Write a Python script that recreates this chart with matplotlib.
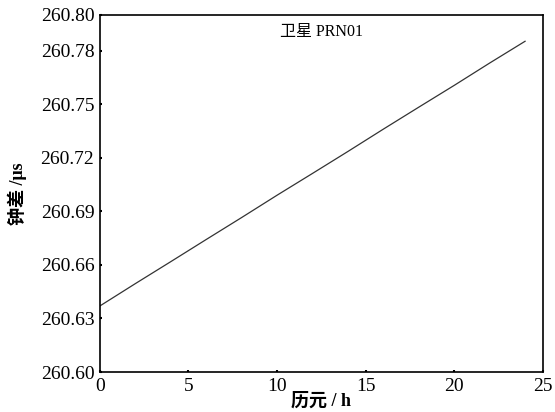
import matplotlib
matplotlib.use("Agg")
import matplotlib.pyplot as plt

plt.rcParams['font.family'] = ['Liberation Serif', 'Noto Sans CJK SC']

# clock offset of PRN01 (every 2 h)
epoch_h = [0, 2, 4, 6, 8, 10, 12, 14, 16, 18, 20, 22, 24]
clock_us = [260.637, 260.6495, 260.6618, 260.6742, 260.6865, 260.699, 260.7112,
            260.7235, 260.736, 260.7483, 260.7605, 260.773, 260.7852]

yticks = [260.60, 260.63, 260.66, 260.69, 260.72, 260.75, 260.78, 260.80]
xticks = [0, 5, 10, 15, 20, 25]

fig = plt.figure(figsize=(5.55, 4.12), dpi=100)
ax = fig.add_axes([0.18, 0.097, 0.798, 0.867])
ax.plot(epoch_h, clock_us, color="#333333", lw=0.9)

ax.set_xlim(0, 25)
ax.set_ylim(260.60, 260.80)
ax.set_xticks(xticks)
ax.set_yticks(yticks)
ax.set_yticklabels([f"{v:.2f}" for v in yticks])
ax.tick_params(direction="in", length=1.5, width=1.5, labelsize=14, pad=4)
for s in ax.spines.values():
    s.set_linewidth(1.2)

ax.text(0.5, 0.975, "卫星 PRN01", transform=ax.transAxes, ha="center", va="top",
        fontsize=11.5)
ax.set_xlabel("历元 / h", fontsize=13, fontweight="bold", labelpad=-2)
ax.set_ylabel("钟差 /μs", fontsize=13, fontweight="bold", labelpad=10)

fig.savefig("out.png", dpi=100)
